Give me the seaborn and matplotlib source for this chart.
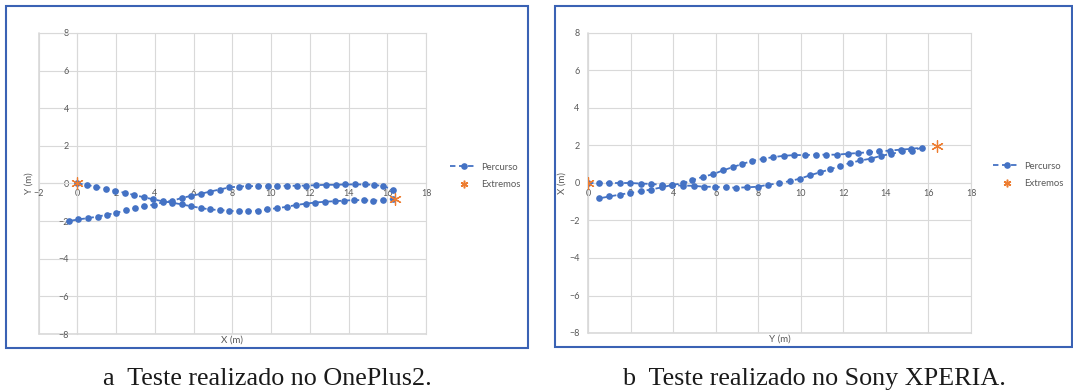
import matplotlib
matplotlib.use("Agg")
import matplotlib.pyplot as plt
import pandas as pd
import seaborn as sns
from matplotlib.lines import Line2D
from matplotlib.patches import Rectangle

# --- Teste (a): OnePlus2 -------------------------------------------------
# ida (from the origin to the far end)
op_ida_x = [0, 0.5, 0.98, 1.46, 1.96, 2.46, 2.94, 3.43, 3.92, 4.42, 4.9, 5.39,
            5.87, 6.37, 6.85, 7.35, 7.83, 8.33, 8.81, 9.33, 9.81, 10.31, 10.81,
            11.31, 11.81, 12.29, 12.79, 13.29, 13.79, 14.29, 14.78, 15.28, 15.78, 16.3]
op_ida_y = [0, -0.07, -0.18, -0.27, -0.39, -0.5, -0.61, -0.73, -0.84, -0.95, -1.02,
            -1.11, -1.21, -1.3, -1.38, -1.41, -1.45, -1.48, -1.48, -1.44, -1.38,
            -1.31, -1.24, -1.14, -1.07, -1.01, -0.97, -0.94, -0.91, -0.88, -0.89,
            -0.91, -0.89, -0.82]
# volta (way back)
op_volta_x = [16.3, 15.78, 15.32, 14.84, 14.34, 13.84, 13.34, 12.84, 12.32, 11.82,
              11.33, 10.83, 10.33, 9.83, 9.33, 8.83, 8.33, 7.83, 7.35, 6.85, 6.37,
              5.87, 5.39, 4.9, 4.42, 3.94, 3.46, 2.98, 2.5, 2.0, 1.53, 1.05, 0.55,
              0.05, -0.45]
op_volta_y = [-0.32, -0.14, -0.07, -0.05, -0.05, -0.05, -0.07, -0.07, -0.09, -0.11,
              -0.12, -0.12, -0.14, -0.14, -0.14, -0.14, -0.16, -0.21, -0.32, -0.43,
              -0.55, -0.66, -0.77, -0.92, -1.0, -1.12, -1.22, -1.31, -1.43, -1.56,
              -1.66, -1.76, -1.84, -1.91, -2.0]
op_ext_x = [0, 16.42]
op_ext_y = [0, -0.8]

# --- Teste (b): Sony XPERIA ----------------------------------------------
sx_ida_x = [0, 0.5, 0.99, 1.49, 1.99, 2.48, 2.98, 3.48, 3.97, 4.47, 4.97, 5.47,
            5.97, 6.47, 6.97, 7.47, 7.97, 8.47, 8.97, 9.47, 9.96, 10.43, 10.9,
            11.38, 11.85, 12.32, 12.8, 13.3, 13.77, 14.24, 14.74, 15.24]
sx_ida_y = [0, 0, 0, 0, 0, -0.03, -0.05, -0.1, -0.12, -0.14, -0.15, -0.2, -0.2,
            -0.24, -0.25, -0.23, -0.2, -0.09, -0.02, 0.1, 0.23, 0.41, 0.57, 0.73,
            0.91, 1.07, 1.2, 1.3, 1.45, 1.55, 1.68, 1.72]
sx_volta_x = [15.69, 15.2, 14.7, 14.2, 13.69, 13.2, 12.7, 12.2, 11.7, 11.2, 10.7,
              10.21, 9.69, 9.2, 8.7, 8.22, 7.73, 7.26, 6.81, 6.34, 5.88, 5.4, 4.91,
              4.46, 3.97, 3.47, 2.97, 2.47, 1.97, 1.49, 1.0, 0.52]
sx_volta_y = [1.89, 1.82, 1.78, 1.73, 1.69, 1.64, 1.6, 1.56, 1.51, 1.51, 1.51, 1.49,
              1.49, 1.45, 1.38, 1.29, 1.18, 1.02, 0.85, 0.67, 0.47, 0.33, 0.15,
              -0.02, -0.1, -0.23, -0.35, -0.44, -0.53, -0.62, -0.72, -0.82]
sx_ext_x = [0, 16.38]
sx_ext_y = [0, 1.95]

y_ticks = [-8, -6, -4, -2, 0, 2, 4, 6, 8]
legend_labels = ["Percurso", "Extremos"]

sns.set_style("white")
plt.rcParams["font.family"] = ["Lato", "DejaVu Sans"]

BLUE = "#4472C4"
ORANGE = "#ED7D31"
GRID = "#D9D9D9"
TXT = "#595959"
FRAME = "#3A62B4"
DASH = (0, (3, 2))
STAR = (6, 2, 0)

W, H = 1073, 390
fig = plt.figure(figsize=(W / 100, H / 100), dpi=100)


def panel(rect, px, py, ex, ey, xmin, xlabel, ylabel, ylab_x, leg_xy,
          box, caption, cap_x):
    l, t, r, b = rect
    ax = fig.add_axes([l / W, 1 - b / H, (r - l) / W, (b - t) / H])
    df = pd.DataFrame({"x": px, "y": py})
    sns.lineplot(data=df, x="x", y="y", sort=False, estimator=None, ax=ax,
                 color=BLUE, linewidth=1.3, linestyle=DASH, marker="o",
                 markersize=4.8, markeredgewidth=0, legend=False, zorder=3)
    sns.scatterplot(x=ex, y=ey, ax=ax, marker=STAR, s=70, color=ORANGE,
                    linewidth=0.9, legend=False, zorder=4)

    ax.set_xlim(xmin, 18)
    ax.set_ylim(-8, 8)
    ax.set_xticks(list(range(xmin, 19, 2)))
    ax.set_yticks(y_ticks)
    ax.grid(True, color=GRID, linewidth=0.8)
    ax.set_axisbelow(True)
    for side in ("top", "right"):
        ax.spines[side].set_color(GRID)
        ax.spines[side].set_linewidth(0.8)
    ax.spines["left"].set_position(("data", 0))
    ax.spines["bottom"].set_position(("data", 0))
    ax.spines["left"].set_color(GRID)
    ax.spines["bottom"].set_color(GRID)
    ax.spines["left"].set_linewidth(0.8)
    ax.spines["bottom"].set_linewidth(0.8)
    ax.axvline(xmin, color=GRID, lw=1.2, clip_on=False, zorder=0)
    ax.axhline(-8, color=GRID, lw=1.2, clip_on=False, zorder=0)

    ax.tick_params(axis="both", length=0, labelsize=6.5, labelcolor=TXT)
    ax.tick_params(axis="x", pad=4)
    ax.tick_params(axis="y", pad=6)

    ax.set_xlabel(xlabel, fontsize=7, color=TXT)
    ax.set_ylabel(ylabel, fontsize=7, color=TXT)
    ax.xaxis.set_label_coords(0.5, -0.004)
    ax.yaxis.set_label_coords(ylab_x, 0.5)

    handles = [
        Line2D([], [], color=BLUE, linestyle=DASH, linewidth=1.3, marker="o",
               markersize=4.8, markeredgewidth=0),
        Line2D([], [], color=ORANGE, linestyle="none", marker=STAR,
               markersize=5.5, markeredgewidth=1.1),
    ]
    fig.legend(handles=handles, labels=legend_labels, loc="upper left",
               bbox_to_anchor=(leg_xy[0] / W, 1 - leg_xy[1] / H),
               frameon=False, fontsize=6.8, handlelength=2.9,
               handletextpad=0.35, labelspacing=0.95, borderpad=0,
               borderaxespad=0, labelcolor=TXT)

    bl, bt, br, bb = box
    fig.add_artist(Rectangle((bl / W, 1 - bb / H), (br - bl) / W, (bb - bt) / H,
                             transform=fig.transFigure, fill=False,
                             edgecolor=FRAME, linewidth=1.5))
    fig.text(cap_x / W, 1 - 385 / H, caption, ha="center", va="baseline",
             fontsize=18.8, family="Liberation Serif", color="#1a1a1a")
    return ax


panel((38.5, 33, 426, 334), op_ida_x + op_volta_x, op_ida_y + op_volta_y,
      op_ext_x, op_ext_y, -2, "X (m)", "Y (m)", -0.012, (450, 162.5),
      (6, 5.5, 528, 347.5), "a  Teste realizado no OnePlus2.", 267)

panel((588, 33, 971, 333), sx_ida_x + sx_volta_x, sx_ida_y + sx_volta_y,
      sx_ext_x, sx_ext_y, 0, "Y (m)", "X (m)", -0.055, (993, 161.5),
      (555, 5.5, 1071.5, 346.7), "b  Teste realizado no Sony XPERIA.", 814)

fig.savefig("out.png", dpi=100)
